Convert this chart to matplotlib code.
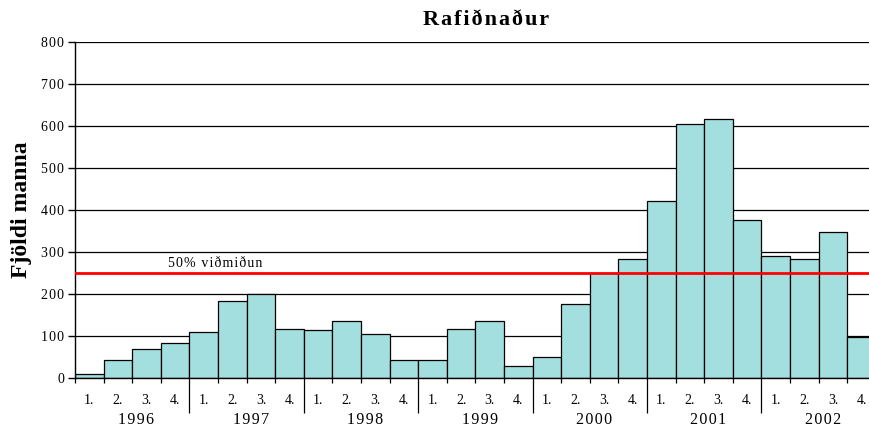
import matplotlib.pyplot as plt
from matplotlib.ticker import FixedLocator, NullFormatter, FuncFormatter

# quarterly head counts, 1996 Q1 .. 2002 Q4
years = ['1996', '1997', '1998', '1999', '2000', '2001', '2002']
quarters = ['1.', '2.', '3.', '4.']
counts = [9, 43, 69, 84,
          110, 183, 201, 116,
          114, 136, 105, 43,
          43, 116, 136, 29,
          49, 176, 249, 284,
          421, 604, 616, 377,
          290, 284, 348, 98]
threshold = 250
threshold_label = '50% viðmiðun'

plt.rcParams['font.family'] = ['Liberation Serif', 'DejaVu Serif']

HAIR = '\u200a'


def spaced(s):
    # open up the letters a little
    return HAIR.join(s)


W, H = 869, 429
fig = plt.figure(figsize=(W / 100, H / 100), dpi=100)
ax = fig.add_axes([75 / W, 51 / H, 800.8 / W, 336 / H])

n = len(counts)
ax.bar(range(n), counts, width=1.0, align='edge', color='#A3DFDF',
       edgecolor='black', linewidth=0.9, zorder=2)

ax.set_xlim(0, n)
ax.set_ylim(0, 800)
ax.set_yticks(range(0, 801, 100))
ax.yaxis.set_major_formatter(FuncFormatter(lambda v, p: spaced(f'{v:.0f}')))
ax.yaxis.grid(True, color='black', linewidth=0.9, zorder=1)
ax.set_axisbelow(True)
for s in ['top', 'right']:
    ax.spines[s].set_visible(False)
ax.spines['left'].set_linewidth(1.0)
ax.spines['bottom'].set_linewidth(1.0)
ax.tick_params(axis='y', length=5, width=1, pad=3, labelsize=10)

# short ticks between quarters, long dividers between years
year_edges = [i for i in range(4, n, 4)]
quarter_edges = [i for i in range(0, n) if i not in year_edges]
ax.xaxis.set_major_locator(FixedLocator(quarter_edges))
ax.xaxis.set_minor_locator(FixedLocator(year_edges))
ax.xaxis.set_major_formatter(NullFormatter())
ax.tick_params(axis='x', which='major', length=3.6, width=0.9)
ax.tick_params(axis='x', which='minor', length=25.5, width=0.9)

xt = ax.get_xaxis_transform()
for i in range(n):
    ax.text(i + 0.5, -22 / 336, quarters[i % 4], transform=xt,
            ha='center', va='center', fontsize=10)
for k, y in enumerate(years):
    ax.text(4 * k + 2.15, -42 / 336, spaced(y), transform=xt,
            ha='center', va='center', fontsize=11.5)

ax.axhline(threshold, color='#FF0000', linewidth=2, zorder=3)
ax.text(3.25, threshold + 8, spaced(threshold_label), fontsize=10,
        ha='left', va='bottom', zorder=4)

fig.text(486 / W, 1 - 20 / H, spaced('Rafiðnaður'),
         ha='center', va='center', fontsize=16, fontweight='bold')
fig.text(22 / W, 1 - 210 / H, 'Fjöldi manna', rotation=90,
         ha='center', va='center', fontsize=17, fontweight='bold')

fig.savefig('out.png', dpi=100)
